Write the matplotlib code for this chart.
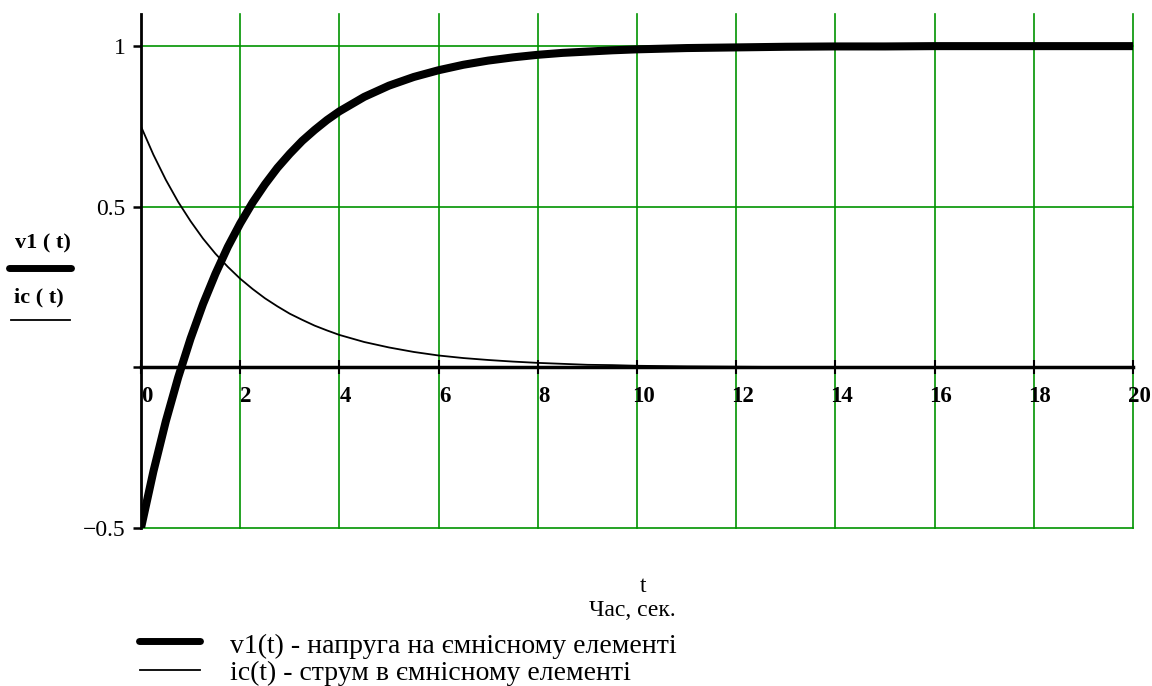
import matplotlib
matplotlib.use("Agg")
import matplotlib.pyplot as plt
from matplotlib.lines import Line2D
from matplotlib.transforms import ScaledTranslation

# ---- data ----
t = [0, 0.25, 0.5, 0.75, 1, 1.25, 1.5, 1.75, 2, 2.25, 2.5, 2.75, 3, 3.25, 3.5, 3.75,
     4, 4.5, 5, 5.5, 6, 6.5, 7, 7.5, 8, 8.5, 9, 9.5, 10, 11, 12, 13, 14, 15, 16, 17, 18, 19, 20]
v1 = [-0.500, -0.324, -0.168, -0.031, 0.090, 0.197, 0.291, 0.375, 0.448, 0.513, 0.570, 0.621,
      0.665, 0.705, 0.739, 0.770, 0.797, 0.842, 0.877, 0.904, 0.925, 0.942, 0.955, 0.965,
      0.973, 0.979, 0.983, 0.987, 0.990, 0.994, 0.996, 0.998, 0.999, 0.999, 1.000, 1.000,
      1.000, 1.000, 1.000]
ic = [0.750, 0.662, 0.584, 0.515, 0.455, 0.401, 0.354, 0.313, 0.276, 0.244, 0.215, 0.190,
      0.167, 0.148, 0.130, 0.115, 0.101, 0.079, 0.062, 0.048, 0.037, 0.029, 0.023, 0.018,
      0.014, 0.011, 0.008, 0.007, 0.005, 0.003, 0.002, 0.001, 0.001, 0.000, 0.000, 0.000,
      0.000, 0.000, 0.000]
xticks = [0, 2, 4, 6, 8, 10, 12, 14, 16, 18, 20]
xtick_labels = ["0", "2", "4", "6", "8", "10", "12", "14", "16", "18", "20"]
yticks = [-0.5, 0, 0.5, 1]
ytick_labels = ["\u22120.5", "", "0.5", "1"]
legend_labels = ["v1(t) - напруга на ємнісному елементі",
                 "ic(t) - струм в ємнісному елементі"]

plt.rcParams['font.family'] = ['Liberation Serif', 'DejaVu Serif']

W, H = 1152, 686
fig = plt.figure(figsize=(W / 100, H / 100), dpi=100)
ax = fig.add_axes([141 / W, 1 - 528 / H, (1133 - 141) / W, (528 - 14) / H])

green = '#009400'
# grid
for xv in xticks[1:]:
    ax.axvline(xv, color=green, lw=1.2, zorder=1, clip_on=False)
for yv in [-0.5, 0.5, 1]:
    ax.axhline(yv, color=green, lw=1.2, zorder=1, clip_on=False)

ln1, = ax.plot(t, v1, color='black', lw=5.8, solid_capstyle='butt', zorder=4)
ln2, = ax.plot(t, ic, color='black', lw=1.3, zorder=3)

ax.set_xlim(0, 20)
ax.set_ylim(-0.5, 1.1)

for s in ['top', 'right']:
    ax.spines[s].set_visible(False)
ax.spines['left'].set_linewidth(2)
ax.spines['left'].set_zorder(5)
ax.spines['bottom'].set_position(('data', 0))
ax.spines['bottom'].set_linewidth(2.5)
ax.spines['bottom'].set_zorder(5)

ax.set_xticks(xticks)
ax.set_xticklabels([""] * len(xticks))
ax.set_yticks(yticks)
ax.set_yticklabels(ytick_labels, fontsize=17)
ax.tick_params(axis='y', direction='out', length=6, width=1.8, pad=5)
ax.tick_params(axis='x', direction='inout', length=10, width=1.5)

# x tick labels, centred slightly right of each tick (Mathcad style)
off = ScaledTranslation(6 / 100, -29 / 100, fig.dpi_scale_trans)
for xv, lab in zip(xticks, xtick_labels):
    ax.text(xv, 0, lab, transform=ax.transData + off, fontsize=16.5, fontweight='bold',
            ha='center', va='center', clip_on=False)

# y-axis "legend" labels on left
fig.text(43 / W, 1 - 243 / H, "v1 ( t)", fontsize=16, fontweight='bold', ha='center', va='center')
fig.add_artist(Line2D([9 / W, 71 / W], [1 - 268 / H, 1 - 268 / H], color='black', lw=5,
                      solid_capstyle='round', transform=fig.transFigure))
fig.text(39 / W, 1 - 297 / H, "ic ( t)", fontsize=16, fontweight='bold', ha='center', va='center')
fig.add_artist(Line2D([11 / W, 70 / W], [1 - 320 / H, 1 - 320 / H], color='black', lw=1.3,
                      transform=fig.transFigure))

# x label
fig.text(643 / W, 1 - 586 / H, "t", fontsize=17, ha='center', va='center')
fig.text(632 / W, 1 - 610 / H, "Час, сек.", fontsize=17, ha='center', va='center')

# bottom legend
fig.add_artist(Line2D([139 / W, 200 / W], [1 - 641 / H, 1 - 641 / H], color='black', lw=5,
                      solid_capstyle='round', transform=fig.transFigure))
fig.add_artist(Line2D([140 / W, 200 / W], [1 - 670 / H, 1 - 670 / H], color='black', lw=1.3,
                      transform=fig.transFigure))
fig.text(230 / W, 1 - 653 / H, legend_labels[0], fontsize=20, ha='left', va='baseline')
fig.text(230 / W, 1 - 680 / H, legend_labels[1], fontsize=20, ha='left', va='baseline')

fig.savefig("out.png", dpi=100)
